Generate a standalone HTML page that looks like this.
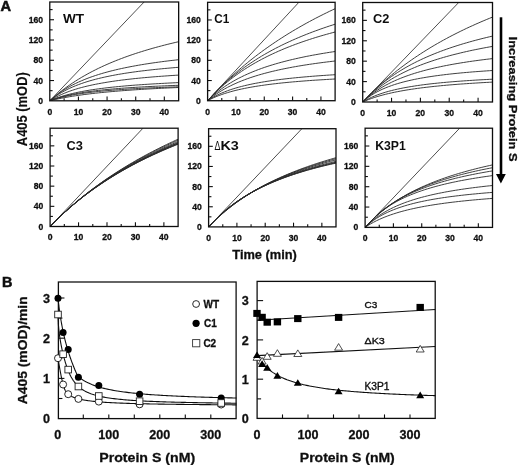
<!DOCTYPE html>
<html><head><meta charset="utf-8"><style>
html,body{margin:0;padding:0;background:#fff;}
svg{display:block;}
text{font-family:"Liberation Sans", sans-serif;fill:#111;stroke:#111;stroke-width:0.3px;}
</style></head><body>
<svg width="520" height="466" viewBox="0 0 520 466">
<rect width="520" height="466" fill="#fff"/>
<defs><filter id="bl" x="0" y="0" width="1" height="1"><feGaussianBlur stdDeviation="0.35"/></filter></defs>
<g filter="url(#bl)">
<g stroke-linecap="butt">
<clipPath id="c_WT"><rect x="49.8" y="2.0" width="128.85000000000002" height="98.8"/></clipPath>
<g clip-path="url(#c_WT)">
<line x1="49.8" y1="100.8" x2="144.10" y2="2.0" stroke="#222" stroke-width="0.8"/>
<polyline points="49.80,100.80 52.66,98.22 55.53,95.75 58.39,93.39 61.25,91.12 64.12,88.94 66.98,86.85 69.84,84.84 72.71,82.91 75.57,81.05 78.43,79.26 81.30,77.53 84.16,75.86 87.02,74.25 89.89,72.69 92.75,71.19 95.61,69.74 98.48,68.33 101.34,66.97 104.20,65.65 107.07,64.38 109.93,63.14 112.79,61.94 115.66,60.77 118.52,59.64 121.38,58.54 124.25,57.47 127.11,56.43 129.97,55.42 132.84,54.44 135.70,53.48 138.56,52.55 141.43,51.65 144.29,50.76 147.15,49.90 150.02,49.06 152.88,48.24 155.74,47.45 158.61,46.67 161.47,45.91 164.33,45.16 167.20,44.44 170.06,43.73 172.92,43.04 175.79,42.36 178.65,41.70" fill="none" stroke="#2a2a2a" stroke-width="0.9"/>
<polyline points="49.80,100.80 52.66,98.25 55.53,95.90 58.39,93.72 61.25,91.71 64.12,89.83 66.98,88.09 69.84,86.45 72.71,84.92 75.57,83.49 78.43,82.14 81.30,80.86 84.16,79.66 87.02,78.53 89.89,77.45 92.75,76.44 95.61,75.47 98.48,74.55 101.34,73.67 104.20,72.84 107.07,72.05 109.93,71.29 112.79,70.56 115.66,69.86 118.52,69.20 121.38,68.56 124.25,67.95 127.11,67.36 129.97,66.79 132.84,66.25 135.70,65.72 138.56,65.22 141.43,64.73 144.29,64.26 147.15,63.81 150.02,63.37 152.88,62.95 155.74,62.54 158.61,62.15 161.47,61.76 164.33,61.39 167.20,61.03 170.06,60.68 172.92,60.35 175.79,60.02 178.65,59.70" fill="none" stroke="#2a2a2a" stroke-width="0.9"/>
<polyline points="49.80,100.80 52.66,98.49 55.53,96.39 58.39,94.47 61.25,92.71 64.12,91.10 66.98,89.60 69.84,88.22 72.71,86.94 75.57,85.75 78.43,84.64 81.30,83.60 84.16,82.62 87.02,81.71 89.89,80.84 92.75,80.03 95.61,79.26 98.48,78.54 101.34,77.85 104.20,77.20 107.07,76.58 109.93,75.99 112.79,75.43 115.66,74.90 118.52,74.38 121.38,73.90 124.25,73.43 127.11,72.98 129.97,72.56 132.84,72.15 135.70,71.75 138.56,71.37 141.43,71.01 144.29,70.66 147.15,70.32 150.02,70.00 152.88,69.68 155.74,69.38 158.61,69.09 161.47,68.81 164.33,68.54 167.20,68.27 170.06,68.02 172.92,67.77 175.79,67.53 178.65,67.30" fill="none" stroke="#2a2a2a" stroke-width="0.9"/>
<polyline points="49.80,100.80 52.66,99.02 55.53,97.41 58.39,95.94 61.25,94.59 64.12,93.35 66.98,92.20 69.84,91.14 72.71,90.16 75.57,89.24 78.43,88.39 81.30,87.59 84.16,86.84 87.02,86.14 89.89,85.48 92.75,84.86 95.61,84.27 98.48,83.71 101.34,83.19 104.20,82.69 107.07,82.21 109.93,81.76 112.79,81.33 115.66,80.92 118.52,80.53 121.38,80.15 124.25,79.80 127.11,79.45 129.97,79.13 132.84,78.81 135.70,78.51 138.56,78.22 141.43,77.94 144.29,77.67 147.15,77.42 150.02,77.17 152.88,76.93 155.74,76.70 158.61,76.47 161.47,76.26 164.33,76.05 167.20,75.85 170.06,75.65 172.92,75.46 175.79,75.28 178.65,75.10" fill="none" stroke="#2a2a2a" stroke-width="0.9"/>
<polyline points="49.80,100.80 52.66,99.58 55.53,98.48 58.39,97.46 61.25,96.52 64.12,95.66 66.98,94.86 69.84,94.12 72.71,93.43 75.57,92.79 78.43,92.18 81.30,91.62 84.16,91.09 87.02,90.59 89.89,90.12 92.75,89.67 95.61,89.25 98.48,88.85 101.34,88.47 104.20,88.12 107.07,87.77 109.93,87.45 112.79,87.14 115.66,86.84 118.52,86.56 121.38,86.29 124.25,86.03 127.11,85.78 129.97,85.54 132.84,85.31 135.70,85.09 138.56,84.88 141.43,84.68 144.29,84.48 147.15,84.30 150.02,84.11 152.88,83.94 155.74,83.77 158.61,83.61 161.47,83.45 164.33,83.30 167.20,83.15 170.06,83.00 172.92,82.87 175.79,82.73 178.65,82.60" fill="none" stroke="#2a2a2a" stroke-width="0.9"/>
<polyline points="49.80,100.80 52.66,99.71 55.53,98.72 58.39,97.82 61.25,96.99 64.12,96.24 66.98,95.54 69.84,94.90 72.71,94.30 75.57,93.75 78.43,93.23 81.30,92.75 84.16,92.30 87.02,91.88 89.89,91.48 92.75,91.11 95.61,90.75 98.48,90.42 101.34,90.11 104.20,89.81 107.07,89.52 109.93,89.25 112.79,89.00 115.66,88.75 118.52,88.52 121.38,88.30 124.25,88.08 127.11,87.88 129.97,87.69 132.84,87.50 135.70,87.32 138.56,87.15 141.43,86.98 144.29,86.82 147.15,86.67 150.02,86.52 152.88,86.38 155.74,86.24 158.61,86.11 161.47,85.98 164.33,85.86 167.20,85.74 170.06,85.62 172.92,85.51 175.79,85.40 178.65,85.30" fill="none" stroke="#2a2a2a" stroke-width="0.9"/>
<polyline points="49.80,100.80 52.66,99.83 55.53,98.94 58.39,98.14 61.25,97.40 64.12,96.72 66.98,96.10 69.84,95.52 72.71,94.98 75.57,94.49 78.43,94.02 81.30,93.59 84.16,93.18 87.02,92.80 89.89,92.44 92.75,92.10 95.61,91.78 98.48,91.47 101.34,91.19 104.20,90.92 107.07,90.66 109.93,90.41 112.79,90.18 115.66,89.96 118.52,89.74 121.38,89.54 124.25,89.35 127.11,89.16 129.97,88.98 132.84,88.81 135.70,88.65 138.56,88.49 141.43,88.34 144.29,88.19 147.15,88.05 150.02,87.92 152.88,87.79 155.74,87.66 158.61,87.54 161.47,87.43 164.33,87.31 167.20,87.20 170.06,87.10 172.92,87.00 175.79,86.90 178.65,86.80" fill="none" stroke="#2a2a2a" stroke-width="0.9"/>
<polyline points="49.80,100.80 52.66,100.10 55.53,99.45 58.39,98.83 61.25,98.25 64.12,97.70 66.98,97.18 69.84,96.68 72.71,96.21 75.57,95.77 78.43,95.34 81.30,94.94 84.16,94.56 87.02,94.19 89.89,93.84 92.75,93.50 95.61,93.18 98.48,92.87 101.34,92.57 104.20,92.29 107.07,92.01 109.93,91.75 112.79,91.50 115.66,91.25 118.52,91.02 121.38,90.79 124.25,90.57 127.11,90.36 129.97,90.16 132.84,89.96 135.70,89.77 138.56,89.58 141.43,89.40 144.29,89.23 147.15,89.06 150.02,88.90 152.88,88.74 155.74,88.58 158.61,88.44 161.47,88.29 164.33,88.15 167.20,88.01 170.06,87.88 172.92,87.75 175.79,87.62 178.65,87.50" fill="none" stroke="#2a2a2a" stroke-width="0.9"/>
</g>
<rect x="49.8" y="2.0" width="128.85" height="98.80" fill="none" stroke="#111" stroke-width="1.3"/>
<line x1="49.8" y1="90.67" x2="52.599999999999994" y2="90.67" stroke="#111" stroke-width="1.1"/>
<line x1="49.8" y1="80.53" x2="54.0" y2="80.53" stroke="#111" stroke-width="1.1"/>
<line x1="49.8" y1="70.40" x2="52.599999999999994" y2="70.40" stroke="#111" stroke-width="1.1"/>
<line x1="49.8" y1="60.27" x2="54.0" y2="60.27" stroke="#111" stroke-width="1.1"/>
<line x1="49.8" y1="50.13" x2="52.599999999999994" y2="50.13" stroke="#111" stroke-width="1.1"/>
<line x1="49.8" y1="40.00" x2="54.0" y2="40.00" stroke="#111" stroke-width="1.1"/>
<line x1="49.8" y1="29.87" x2="52.599999999999994" y2="29.87" stroke="#111" stroke-width="1.1"/>
<line x1="49.8" y1="19.73" x2="54.0" y2="19.73" stroke="#111" stroke-width="1.1"/>
<line x1="49.8" y1="9.60" x2="52.599999999999994" y2="9.60" stroke="#111" stroke-width="1.1"/>
<line x1="64.12" y1="100.8" x2="64.12" y2="98.2" stroke="#111" stroke-width="1.1"/>
<line x1="78.43" y1="100.8" x2="78.43" y2="96.6" stroke="#111" stroke-width="1.1"/>
<line x1="92.75" y1="100.8" x2="92.75" y2="98.2" stroke="#111" stroke-width="1.1"/>
<line x1="107.07" y1="100.8" x2="107.07" y2="96.6" stroke="#111" stroke-width="1.1"/>
<line x1="121.38" y1="100.8" x2="121.38" y2="98.2" stroke="#111" stroke-width="1.1"/>
<line x1="135.70" y1="100.8" x2="135.70" y2="96.6" stroke="#111" stroke-width="1.1"/>
<line x1="150.02" y1="100.8" x2="150.02" y2="98.2" stroke="#111" stroke-width="1.1"/>
<line x1="164.33" y1="100.8" x2="164.33" y2="96.6" stroke="#111" stroke-width="1.1"/>
<text x="43.00" y="103.80" text-anchor="end" font-size="8.6" font-weight="bold">0</text>
<text x="43.00" y="83.53" text-anchor="end" font-size="8.6" font-weight="bold">40</text>
<text x="43.00" y="63.27" text-anchor="end" font-size="8.6" font-weight="bold">80</text>
<text x="43.00" y="43.00" text-anchor="end" font-size="8.6" font-weight="bold">120</text>
<text x="43.00" y="22.73" text-anchor="end" font-size="8.6" font-weight="bold">160</text>
<text x="49.80" y="114.70" text-anchor="middle" font-size="8.6" font-weight="bold">0</text>
<text x="78.43" y="114.70" text-anchor="middle" font-size="8.6" font-weight="bold">10</text>
<text x="107.07" y="114.70" text-anchor="middle" font-size="8.6" font-weight="bold">20</text>
<text x="135.70" y="114.70" text-anchor="middle" font-size="8.6" font-weight="bold">30</text>
<text x="164.33" y="114.70" text-anchor="middle" font-size="8.6" font-weight="bold">40</text>
<clipPath id="c_C1"><rect x="207.6" y="2.3" width="127.50000000000003" height="98.4"/></clipPath>
<g clip-path="url(#c_C1)">
<line x1="207.6" y1="100.7" x2="298.86" y2="2.3" stroke="#222" stroke-width="0.8"/>
<polyline points="207.60,100.70 210.43,97.64 213.27,94.59 216.10,91.53 218.93,88.62 221.77,85.77 224.60,82.99 227.43,80.27 230.27,77.62 233.10,75.02 235.93,72.47 238.77,69.98 241.60,67.55 244.43,65.16 247.27,62.83 250.10,60.54 252.93,58.30 255.77,56.11 258.60,53.96 261.43,51.85 264.27,49.78 267.10,47.76 269.93,45.77 272.77,43.82 275.60,41.91 278.43,40.03 281.27,38.19 284.10,36.38 286.93,34.60 289.77,32.86 292.60,31.15 295.43,29.47 298.27,27.81 301.10,26.19 303.93,24.59 306.77,23.02 309.60,21.48 312.43,19.97 315.27,18.48 318.10,17.01 320.93,15.57 323.77,14.15 326.60,12.75 329.43,11.38 332.27,10.03 335.10,8.70" fill="none" stroke="#2a2a2a" stroke-width="0.9"/>
<polyline points="207.60,100.70 210.43,97.64 213.27,94.59 216.10,91.57 218.93,88.75 221.77,86.04 224.60,83.42 227.43,80.89 230.27,78.45 233.10,76.09 235.93,73.81 238.77,71.61 241.60,69.47 244.43,67.40 247.27,65.40 250.10,63.46 252.93,61.58 255.77,59.75 258.60,57.98 261.43,56.26 264.27,54.59 267.10,52.96 269.93,51.38 272.77,49.84 275.60,48.35 278.43,46.89 281.27,45.47 284.10,44.09 286.93,42.75 289.77,41.44 292.60,40.16 295.43,38.91 298.27,37.69 301.10,36.51 303.93,35.35 306.77,34.21 309.60,33.11 312.43,32.03 315.27,30.97 318.10,29.94 320.93,28.93 323.77,27.94 326.60,26.98 329.43,26.03 332.27,25.11 335.10,24.20" fill="none" stroke="#2a2a2a" stroke-width="0.9"/>
<polyline points="207.60,100.70 210.43,97.64 213.27,94.70 216.10,91.90 218.93,89.21 221.77,86.64 224.60,84.18 227.43,81.82 230.27,79.55 233.10,77.36 235.93,75.26 238.77,73.24 241.60,71.30 244.43,69.42 247.27,67.61 250.10,65.86 252.93,64.17 255.77,62.54 258.60,60.97 261.43,59.44 264.27,57.96 267.10,56.53 269.93,55.15 272.77,53.80 275.60,52.50 278.43,51.23 281.27,50.00 284.10,48.81 286.93,47.65 289.77,46.53 292.60,45.43 295.43,44.36 298.27,43.33 301.10,42.32 303.93,41.33 306.77,40.38 309.60,39.44 312.43,38.53 315.27,37.64 318.10,36.78 320.93,35.93 323.77,35.11 326.60,34.30 329.43,33.52 332.27,32.75 335.10,32.00" fill="none" stroke="#2a2a2a" stroke-width="0.9"/>
<polyline points="207.60,100.70 210.43,97.96 213.27,95.40 216.10,93.00 218.93,90.75 221.77,88.64 224.60,86.65 227.43,84.78 230.27,83.00 233.10,81.33 235.93,79.74 238.77,78.23 241.60,76.80 244.43,75.44 247.27,74.14 250.10,72.90 252.93,71.72 255.77,70.59 258.60,69.51 261.43,68.47 264.27,67.48 267.10,66.53 269.93,65.62 272.77,64.74 275.60,63.90 278.43,63.08 281.27,62.30 284.10,61.55 286.93,60.82 289.77,60.12 292.60,59.44 295.43,58.79 298.27,58.15 301.10,57.54 303.93,56.95 306.77,56.37 309.60,55.82 312.43,55.28 315.27,54.76 318.10,54.25 320.93,53.76 323.77,53.28 326.60,52.82 329.43,52.37 332.27,51.93 335.10,51.50" fill="none" stroke="#2a2a2a" stroke-width="0.9"/>
<polyline points="207.60,100.70 210.43,98.38 213.27,96.22 216.10,94.22 218.93,92.35 221.77,90.59 224.60,88.95 227.43,87.41 230.27,85.96 233.10,84.59 235.93,83.30 238.77,82.07 241.60,80.92 244.43,79.82 247.27,78.77 250.10,77.78 252.93,76.83 255.77,75.93 258.60,75.07 261.43,74.25 264.27,73.46 267.10,72.71 269.93,71.99 272.77,71.30 275.60,70.63 278.43,69.99 281.27,69.38 284.10,68.79 286.93,68.22 289.77,67.67 292.60,67.14 295.43,66.63 298.27,66.14 301.10,65.66 303.93,65.20 306.77,64.76 309.60,64.33 312.43,63.91 315.27,63.51 318.10,63.12 320.93,62.74 323.77,62.37 326.60,62.01 329.43,61.66 332.27,61.33 335.10,61.00" fill="none" stroke="#2a2a2a" stroke-width="0.9"/>
<polyline points="207.60,100.70 210.43,98.86 213.27,97.20 216.10,95.68 218.93,94.30 221.77,93.03 224.60,91.86 227.43,90.78 230.27,89.78 233.10,88.86 235.93,87.99 238.77,87.18 241.60,86.43 244.43,85.72 247.27,85.05 250.10,84.43 252.93,83.83 255.77,83.28 258.60,82.75 261.43,82.25 264.27,81.77 267.10,81.32 269.93,80.89 272.77,80.48 275.60,80.09 278.43,79.72 281.27,79.36 284.10,79.02 286.93,78.69 289.77,78.38 292.60,78.08 295.43,77.79 298.27,77.51 301.10,77.25 303.93,76.99 306.77,76.75 309.60,76.51 312.43,76.28 315.27,76.06 318.10,75.84 320.93,75.64 323.77,75.44 326.60,75.24 329.43,75.06 332.27,74.88 335.10,74.70" fill="none" stroke="#2a2a2a" stroke-width="0.9"/>
<polyline points="207.60,100.70 210.43,99.23 213.27,97.89 216.10,96.67 218.93,95.54 221.77,94.50 224.60,93.54 227.43,92.66 230.27,91.83 233.10,91.06 235.93,90.34 238.77,89.67 241.60,89.03 244.43,88.44 247.27,87.88 250.10,87.35 252.93,86.85 255.77,86.38 258.60,85.93 261.43,85.50 264.27,85.10 267.10,84.71 269.93,84.35 272.77,84.00 275.60,83.66 278.43,83.34 281.27,83.04 284.10,82.74 286.93,82.46 289.77,82.19 292.60,81.93 295.43,81.69 298.27,81.45 301.10,81.22 303.93,80.99 306.77,80.78 309.60,80.57 312.43,80.37 315.27,80.18 318.10,80.00 320.93,79.82 323.77,79.64 326.60,79.47 329.43,79.31 332.27,79.15 335.10,79.00" fill="none" stroke="#2a2a2a" stroke-width="0.9"/>
</g>
<rect x="207.6" y="2.3" width="127.50" height="98.40" fill="none" stroke="#111" stroke-width="1.3"/>
<line x1="207.6" y1="90.61" x2="210.4" y2="90.61" stroke="#111" stroke-width="1.1"/>
<line x1="207.6" y1="80.52" x2="211.79999999999998" y2="80.52" stroke="#111" stroke-width="1.1"/>
<line x1="207.6" y1="70.42" x2="210.4" y2="70.42" stroke="#111" stroke-width="1.1"/>
<line x1="207.6" y1="60.33" x2="211.79999999999998" y2="60.33" stroke="#111" stroke-width="1.1"/>
<line x1="207.6" y1="50.24" x2="210.4" y2="50.24" stroke="#111" stroke-width="1.1"/>
<line x1="207.6" y1="40.15" x2="211.79999999999998" y2="40.15" stroke="#111" stroke-width="1.1"/>
<line x1="207.6" y1="30.05" x2="210.4" y2="30.05" stroke="#111" stroke-width="1.1"/>
<line x1="207.6" y1="19.96" x2="211.79999999999998" y2="19.96" stroke="#111" stroke-width="1.1"/>
<line x1="207.6" y1="9.87" x2="210.4" y2="9.87" stroke="#111" stroke-width="1.1"/>
<line x1="221.77" y1="100.7" x2="221.77" y2="98.10000000000001" stroke="#111" stroke-width="1.1"/>
<line x1="235.93" y1="100.7" x2="235.93" y2="96.5" stroke="#111" stroke-width="1.1"/>
<line x1="250.10" y1="100.7" x2="250.10" y2="98.10000000000001" stroke="#111" stroke-width="1.1"/>
<line x1="264.27" y1="100.7" x2="264.27" y2="96.5" stroke="#111" stroke-width="1.1"/>
<line x1="278.43" y1="100.7" x2="278.43" y2="98.10000000000001" stroke="#111" stroke-width="1.1"/>
<line x1="292.60" y1="100.7" x2="292.60" y2="96.5" stroke="#111" stroke-width="1.1"/>
<line x1="306.77" y1="100.7" x2="306.77" y2="98.10000000000001" stroke="#111" stroke-width="1.1"/>
<line x1="320.93" y1="100.7" x2="320.93" y2="96.5" stroke="#111" stroke-width="1.1"/>
<text x="200.80" y="103.70" text-anchor="end" font-size="8.6" font-weight="bold">0</text>
<text x="200.80" y="83.52" text-anchor="end" font-size="8.6" font-weight="bold">40</text>
<text x="200.80" y="63.33" text-anchor="end" font-size="8.6" font-weight="bold">80</text>
<text x="200.80" y="43.15" text-anchor="end" font-size="8.6" font-weight="bold">120</text>
<text x="200.80" y="22.96" text-anchor="end" font-size="8.6" font-weight="bold">160</text>
<text x="207.60" y="114.60" text-anchor="middle" font-size="8.6" font-weight="bold">0</text>
<text x="235.93" y="114.60" text-anchor="middle" font-size="8.6" font-weight="bold">10</text>
<text x="264.27" y="114.60" text-anchor="middle" font-size="8.6" font-weight="bold">20</text>
<text x="292.60" y="114.60" text-anchor="middle" font-size="8.6" font-weight="bold">30</text>
<text x="320.93" y="114.60" text-anchor="middle" font-size="8.6" font-weight="bold">40</text>
<clipPath id="c_C2"><rect x="362.7" y="2.5" width="129.8" height="99.5"/></clipPath>
<g clip-path="url(#c_C2)">
<line x1="362.7" y1="102.0" x2="458.69" y2="2.5" stroke="#222" stroke-width="0.8"/>
<polyline points="362.70,102.00 365.58,99.01 368.47,96.02 371.35,93.14 374.24,90.35 377.12,87.63 380.01,84.98 382.89,82.39 385.78,79.87 388.66,77.42 391.54,75.02 394.43,72.68 397.31,70.40 400.20,68.17 403.08,66.00 405.97,63.87 408.85,61.80 411.74,59.77 414.62,57.78 417.50,55.84 420.39,53.95 423.27,52.09 426.16,50.27 429.04,48.49 431.93,46.75 434.81,45.05 437.70,43.38 440.58,41.74 443.46,40.14 446.35,38.57 449.23,37.03 452.12,35.52 455.00,34.04 457.89,32.58 460.77,31.16 463.66,29.76 466.54,28.39 469.42,27.04 472.31,25.72 475.19,24.42 478.08,23.15 480.96,21.89 483.85,20.66 486.73,19.45 489.62,18.27 492.50,17.10" fill="none" stroke="#2a2a2a" stroke-width="0.9"/>
<polyline points="362.70,102.00 365.58,99.01 368.47,96.02 371.35,93.03 374.24,90.31 377.12,87.73 380.01,85.28 382.89,82.93 385.78,80.69 388.66,78.54 391.54,76.49 394.43,74.52 397.31,72.63 400.20,70.82 403.08,69.08 405.97,67.40 408.85,65.79 411.74,64.24 414.62,62.74 417.50,61.30 420.39,59.90 423.27,58.56 426.16,57.26 429.04,56.00 431.93,54.79 434.81,53.61 437.70,52.47 440.58,51.37 443.46,50.30 446.35,49.26 449.23,48.26 452.12,47.28 455.00,46.33 457.89,45.41 460.77,44.51 463.66,43.64 466.54,42.80 469.42,41.97 472.31,41.17 475.19,40.39 478.08,39.63 480.96,38.89 483.85,38.16 486.73,37.46 489.62,36.77 492.50,36.10" fill="none" stroke="#2a2a2a" stroke-width="0.9"/>
<polyline points="362.70,102.00 365.58,99.06 368.47,96.31 371.35,93.71 374.24,91.26 377.12,88.95 380.01,86.77 382.89,84.70 385.78,82.73 388.66,80.86 391.54,79.09 394.43,77.40 397.31,75.79 400.20,74.25 403.08,72.78 405.97,71.37 408.85,70.03 411.74,68.73 414.62,67.50 417.50,66.31 420.39,65.17 423.27,64.07 426.16,63.01 429.04,62.00 431.93,61.02 434.81,60.07 437.70,59.16 440.58,58.28 443.46,57.43 446.35,56.61 449.23,55.81 452.12,55.04 455.00,54.30 457.89,53.58 460.77,52.88 463.66,52.20 466.54,51.54 469.42,50.90 472.31,50.28 475.19,49.68 478.08,49.10 480.96,48.53 483.85,47.97 486.73,47.43 489.62,46.91 492.50,46.40" fill="none" stroke="#2a2a2a" stroke-width="0.9"/>
<polyline points="362.70,102.00 365.58,99.30 368.47,96.81 371.35,94.51 374.24,92.38 377.12,90.40 380.01,88.55 382.89,86.82 385.78,85.21 388.66,83.69 391.54,82.26 394.43,80.92 397.31,79.65 400.20,78.45 403.08,77.32 405.97,76.24 408.85,75.22 411.74,74.25 414.62,73.33 417.50,72.45 420.39,71.61 423.27,70.81 426.16,70.04 429.04,69.31 431.93,68.61 434.81,67.93 437.70,67.29 440.58,66.67 443.46,66.07 446.35,65.50 449.23,64.95 452.12,64.41 455.00,63.90 457.89,63.41 460.77,62.93 463.66,62.47 466.54,62.02 469.42,61.59 472.31,61.18 475.19,60.77 478.08,60.38 480.96,60.00 483.85,59.64 486.73,59.28 489.62,58.94 492.50,58.60" fill="none" stroke="#2a2a2a" stroke-width="0.9"/>
<polyline points="362.70,102.00 365.58,99.49 368.47,97.26 371.35,95.26 374.24,93.46 377.12,91.83 380.01,90.36 382.89,89.01 385.78,87.77 388.66,86.63 391.54,85.58 394.43,84.60 397.31,83.70 400.20,82.86 403.08,82.07 405.97,81.34 408.85,80.65 411.74,80.00 414.62,79.39 417.50,78.82 420.39,78.28 423.27,77.77 426.16,77.28 429.04,76.82 431.93,76.38 434.81,75.96 437.70,75.57 440.58,75.19 443.46,74.83 446.35,74.48 449.23,74.15 452.12,73.84 455.00,73.53 457.89,73.24 460.77,72.96 463.66,72.70 466.54,72.44 469.42,72.19 472.31,71.95 475.19,71.72 478.08,71.50 480.96,71.29 483.85,71.08 486.73,70.88 489.62,70.69 492.50,70.50" fill="none" stroke="#2a2a2a" stroke-width="0.9"/>
<polyline points="362.70,102.00 365.58,100.31 368.47,98.79 371.35,97.41 374.24,96.16 377.12,95.02 380.01,93.98 382.89,93.02 385.78,92.13 388.66,91.31 391.54,90.55 394.43,89.85 397.31,89.19 400.20,88.57 403.08,87.99 405.97,87.45 408.85,86.94 411.74,86.46 414.62,86.00 417.50,85.57 420.39,85.16 423.27,84.78 426.16,84.41 429.04,84.06 431.93,83.73 434.81,83.41 437.70,83.11 440.58,82.82 443.46,82.55 446.35,82.28 449.23,82.03 452.12,81.79 455.00,81.55 457.89,81.33 460.77,81.11 463.66,80.91 466.54,80.71 469.42,80.52 472.31,80.33 475.19,80.15 478.08,79.98 480.96,79.81 483.85,79.65 486.73,79.50 489.62,79.35 492.50,79.20" fill="none" stroke="#2a2a2a" stroke-width="0.9"/>
<polyline points="362.70,102.00 365.58,100.75 368.47,99.60 371.35,98.53 374.24,97.55 377.12,96.63 380.01,95.78 382.89,94.99 385.78,94.24 388.66,93.55 391.54,92.89 394.43,92.28 397.31,91.69 400.20,91.15 403.08,90.63 405.97,90.13 408.85,89.67 411.74,89.22 414.62,88.80 417.50,88.40 420.39,88.02 423.27,87.65 426.16,87.30 429.04,86.97 431.93,86.65 434.81,86.34 437.70,86.05 440.58,85.76 443.46,85.49 446.35,85.23 449.23,84.98 452.12,84.74 455.00,84.51 457.89,84.28 460.77,84.06 463.66,83.86 466.54,83.65 469.42,83.46 472.31,83.27 475.19,83.09 478.08,82.91 480.96,82.74 483.85,82.57 486.73,82.41 489.62,82.25 492.50,82.10" fill="none" stroke="#2a2a2a" stroke-width="0.9"/>
</g>
<rect x="362.7" y="2.5" width="129.80" height="99.50" fill="none" stroke="#111" stroke-width="1.3"/>
<line x1="362.7" y1="91.79" x2="365.5" y2="91.79" stroke="#111" stroke-width="1.1"/>
<line x1="362.7" y1="81.59" x2="366.9" y2="81.59" stroke="#111" stroke-width="1.1"/>
<line x1="362.7" y1="71.38" x2="365.5" y2="71.38" stroke="#111" stroke-width="1.1"/>
<line x1="362.7" y1="61.18" x2="366.9" y2="61.18" stroke="#111" stroke-width="1.1"/>
<line x1="362.7" y1="50.97" x2="365.5" y2="50.97" stroke="#111" stroke-width="1.1"/>
<line x1="362.7" y1="40.77" x2="366.9" y2="40.77" stroke="#111" stroke-width="1.1"/>
<line x1="362.7" y1="30.56" x2="365.5" y2="30.56" stroke="#111" stroke-width="1.1"/>
<line x1="362.7" y1="20.36" x2="366.9" y2="20.36" stroke="#111" stroke-width="1.1"/>
<line x1="362.7" y1="10.15" x2="365.5" y2="10.15" stroke="#111" stroke-width="1.1"/>
<line x1="377.12" y1="102.0" x2="377.12" y2="99.4" stroke="#111" stroke-width="1.1"/>
<line x1="391.54" y1="102.0" x2="391.54" y2="97.8" stroke="#111" stroke-width="1.1"/>
<line x1="405.97" y1="102.0" x2="405.97" y2="99.4" stroke="#111" stroke-width="1.1"/>
<line x1="420.39" y1="102.0" x2="420.39" y2="97.8" stroke="#111" stroke-width="1.1"/>
<line x1="434.81" y1="102.0" x2="434.81" y2="99.4" stroke="#111" stroke-width="1.1"/>
<line x1="449.23" y1="102.0" x2="449.23" y2="97.8" stroke="#111" stroke-width="1.1"/>
<line x1="463.66" y1="102.0" x2="463.66" y2="99.4" stroke="#111" stroke-width="1.1"/>
<line x1="478.08" y1="102.0" x2="478.08" y2="97.8" stroke="#111" stroke-width="1.1"/>
<text x="355.90" y="105.00" text-anchor="end" font-size="8.6" font-weight="bold">0</text>
<text x="355.90" y="84.59" text-anchor="end" font-size="8.6" font-weight="bold">40</text>
<text x="355.90" y="64.18" text-anchor="end" font-size="8.6" font-weight="bold">80</text>
<text x="355.90" y="43.77" text-anchor="end" font-size="8.6" font-weight="bold">120</text>
<text x="355.90" y="23.36" text-anchor="end" font-size="8.6" font-weight="bold">160</text>
<text x="362.70" y="115.90" text-anchor="middle" font-size="8.6" font-weight="bold">0</text>
<text x="391.54" y="115.90" text-anchor="middle" font-size="8.6" font-weight="bold">10</text>
<text x="420.39" y="115.90" text-anchor="middle" font-size="8.6" font-weight="bold">20</text>
<text x="449.23" y="115.90" text-anchor="middle" font-size="8.6" font-weight="bold">30</text>
<text x="478.08" y="115.90" text-anchor="middle" font-size="8.6" font-weight="bold">40</text>
<clipPath id="c_C3"><rect x="50.1" y="128.2" width="128.0" height="98.30000000000001"/></clipPath>
<g clip-path="url(#c_C3)">
<line x1="50.1" y1="226.5" x2="142.99" y2="128.2" stroke="#222" stroke-width="0.8"/>
<polyline points="50.10,226.50 52.94,223.59 55.79,220.75 58.63,217.97 61.48,215.25 64.32,212.59 67.17,209.99 70.01,207.44 72.86,204.95 75.70,202.51 78.54,200.12 81.39,197.77 84.23,195.48 87.08,193.23 89.92,191.02 92.77,188.86 95.61,186.74 98.46,184.66 101.30,182.62 104.14,180.62 106.99,178.65 109.83,176.73 112.68,174.83 115.52,172.97 118.37,171.15 121.21,169.36 124.06,167.60 126.90,165.87 129.74,164.17 132.59,162.50 135.43,160.85 138.28,159.24 141.12,157.65 143.97,156.09 146.81,154.56 149.66,153.05 152.50,151.56 155.34,150.10 158.19,148.66 161.03,147.24 163.88,145.85 166.72,144.48 169.57,143.13 172.41,141.80 175.26,140.49 178.10,139.20" fill="none" stroke="#2a2a2a" stroke-width="0.9"/>
<polyline points="50.10,226.50 52.94,223.58 55.79,220.74 58.63,217.96 61.48,215.24 64.32,212.58 67.17,209.99 70.01,207.45 72.86,204.96 75.70,202.53 78.54,200.15 81.39,197.82 84.23,195.54 87.08,193.31 89.92,191.12 92.77,188.98 95.61,186.88 98.46,184.82 101.30,182.81 104.14,180.83 106.99,178.89 109.83,176.99 112.68,175.12 115.52,173.29 118.37,171.49 121.21,169.73 124.06,167.99 126.90,166.29 129.74,164.62 132.59,162.98 135.43,161.37 138.28,159.79 141.12,158.23 143.97,156.70 146.81,155.20 149.66,153.72 152.50,152.26 155.34,150.84 158.19,149.43 161.03,148.05 163.88,146.69 166.72,145.35 169.57,144.03 172.41,142.73 175.26,141.46 178.10,140.20" fill="none" stroke="#2a2a2a" stroke-width="0.9"/>
<polyline points="50.10,226.50 52.94,223.58 55.79,220.72 58.63,217.94 61.48,215.22 64.32,212.57 67.17,209.98 70.01,207.45 72.86,204.98 75.70,202.56 78.54,200.20 81.39,197.89 84.23,195.63 87.08,193.42 89.92,191.26 92.77,189.15 95.61,187.07 98.46,185.05 101.30,183.06 104.14,181.11 106.99,179.20 109.83,177.34 112.68,175.50 115.52,173.71 118.37,171.94 121.21,170.22 124.06,168.52 126.90,166.86 129.74,165.23 132.59,163.62 135.43,162.05 138.28,160.51 141.12,158.99 143.97,157.50 146.81,156.04 149.66,154.60 152.50,153.19 155.34,151.80 158.19,150.44 161.03,149.09 163.88,147.78 166.72,146.48 169.57,145.20 172.41,143.95 175.26,142.71 178.10,141.50" fill="none" stroke="#2a2a2a" stroke-width="0.9"/>
<polyline points="50.10,226.50 52.94,223.57 55.79,220.71 58.63,217.92 61.48,215.20 64.32,212.55 67.17,209.97 70.01,207.45 72.86,204.98 75.70,202.58 78.54,200.23 81.39,197.94 84.23,195.69 87.08,193.50 89.92,191.36 92.77,189.26 95.61,187.21 98.46,185.21 101.30,183.24 104.14,181.32 106.99,179.44 109.83,177.59 112.68,175.79 115.52,174.02 118.37,172.29 121.21,170.59 124.06,168.92 126.90,167.29 129.74,165.68 132.59,164.11 135.43,162.57 138.28,161.06 141.12,159.57 143.97,158.11 146.81,156.68 149.66,155.28 152.50,153.90 155.34,152.54 158.19,151.21 161.03,149.90 163.88,148.61 166.72,147.35 169.57,146.11 172.41,144.88 175.26,143.68 178.10,142.50" fill="none" stroke="#2a2a2a" stroke-width="0.9"/>
<polyline points="50.10,226.50 52.94,223.57 55.79,220.71 58.63,217.93 61.48,215.22 64.32,212.57 67.17,210.00 70.01,207.48 72.86,205.03 75.70,202.63 78.54,200.29 81.39,198.00 84.23,195.77 87.08,193.59 89.92,191.46 92.77,189.37 95.61,187.33 98.46,185.34 101.30,183.39 104.14,181.48 106.99,179.61 109.83,177.78 112.68,175.98 115.52,174.23 118.37,172.51 121.21,170.82 124.06,169.17 126.90,167.55 129.74,165.96 132.59,164.40 135.43,162.87 138.28,161.37 141.12,159.90 143.97,158.45 146.81,157.04 149.66,155.64 152.50,154.28 155.34,152.93 158.19,151.61 161.03,150.32 163.88,149.05 166.72,147.80 169.57,146.57 172.41,145.36 175.26,144.17 178.10,143.00" fill="none" stroke="#2a2a2a" stroke-width="0.9"/>
<polyline points="50.10,226.50 52.94,223.57 55.79,220.72 58.63,217.94 61.48,215.23 64.32,212.59 67.17,210.02 70.01,207.51 72.86,205.07 75.70,202.68 78.54,200.35 81.39,198.07 84.23,195.85 87.08,193.68 89.92,191.56 92.77,189.48 95.61,187.45 98.46,185.47 101.30,183.53 104.14,181.63 106.99,179.78 109.83,177.96 112.68,176.18 115.52,174.43 118.37,172.72 121.21,171.05 124.06,169.41 126.90,167.80 129.74,166.23 132.59,164.68 135.43,163.17 138.28,161.68 141.12,160.22 143.97,158.79 146.81,157.39 149.66,156.01 152.50,154.66 155.34,153.33 158.19,152.02 161.03,150.74 163.88,149.48 166.72,148.24 169.57,147.03 172.41,145.83 175.26,144.66 178.10,143.50" fill="none" stroke="#2a2a2a" stroke-width="0.9"/>
<polyline points="50.10,226.50 52.94,223.58 55.79,220.73 58.63,217.96 61.48,215.26 64.32,212.63 67.17,210.07 70.01,207.57 72.86,205.13 75.70,202.75 78.54,200.43 81.39,198.17 84.23,195.95 87.08,193.79 89.92,191.68 92.77,189.61 95.61,187.59 98.46,185.62 101.30,183.69 104.14,181.80 106.99,179.95 109.83,178.14 112.68,176.37 115.52,174.64 118.37,172.94 121.21,171.27 124.06,169.64 126.90,168.05 129.74,166.48 132.59,164.94 135.43,163.44 138.28,161.96 141.12,160.51 143.97,159.09 146.81,157.69 149.66,156.32 152.50,154.98 155.34,153.66 158.19,152.36 161.03,151.09 163.88,149.84 166.72,148.61 169.57,147.40 172.41,146.21 175.26,145.05 178.10,143.90" fill="none" stroke="#2a2a2a" stroke-width="0.9"/>
<polyline points="50.10,226.50 52.94,223.58 55.79,220.73 58.63,217.96 61.48,215.26 64.32,212.63 67.17,210.07 70.01,207.58 72.86,205.14 75.70,202.77 78.54,200.45 81.39,198.19 84.23,195.98 87.08,193.82 89.92,191.72 92.77,189.66 95.61,187.64 98.46,185.68 101.30,183.75 104.14,181.87 106.99,180.03 109.83,178.23 112.68,176.47 115.52,174.74 118.37,173.05 121.21,171.40 124.06,169.77 126.90,168.18 129.74,166.63 132.59,165.10 135.43,163.60 138.28,162.13 141.12,160.69 143.97,159.28 146.81,157.89 149.66,156.53 152.50,155.20 155.34,153.89 158.19,152.60 161.03,151.33 163.88,150.09 166.72,148.87 169.57,147.67 172.41,146.50 175.26,145.34 178.10,144.20" fill="none" stroke="#2a2a2a" stroke-width="0.9"/>
</g>
<rect x="50.1" y="128.2" width="128.00" height="98.30" fill="none" stroke="#111" stroke-width="1.3"/>
<line x1="50.1" y1="216.42" x2="52.9" y2="216.42" stroke="#111" stroke-width="1.1"/>
<line x1="50.1" y1="206.34" x2="54.300000000000004" y2="206.34" stroke="#111" stroke-width="1.1"/>
<line x1="50.1" y1="196.25" x2="52.9" y2="196.25" stroke="#111" stroke-width="1.1"/>
<line x1="50.1" y1="186.17" x2="54.300000000000004" y2="186.17" stroke="#111" stroke-width="1.1"/>
<line x1="50.1" y1="176.09" x2="52.9" y2="176.09" stroke="#111" stroke-width="1.1"/>
<line x1="50.1" y1="166.01" x2="54.300000000000004" y2="166.01" stroke="#111" stroke-width="1.1"/>
<line x1="50.1" y1="155.93" x2="52.9" y2="155.93" stroke="#111" stroke-width="1.1"/>
<line x1="50.1" y1="145.84" x2="54.300000000000004" y2="145.84" stroke="#111" stroke-width="1.1"/>
<line x1="50.1" y1="135.76" x2="52.9" y2="135.76" stroke="#111" stroke-width="1.1"/>
<line x1="64.32" y1="226.5" x2="64.32" y2="223.9" stroke="#111" stroke-width="1.1"/>
<line x1="78.54" y1="226.5" x2="78.54" y2="222.3" stroke="#111" stroke-width="1.1"/>
<line x1="92.77" y1="226.5" x2="92.77" y2="223.9" stroke="#111" stroke-width="1.1"/>
<line x1="106.99" y1="226.5" x2="106.99" y2="222.3" stroke="#111" stroke-width="1.1"/>
<line x1="121.21" y1="226.5" x2="121.21" y2="223.9" stroke="#111" stroke-width="1.1"/>
<line x1="135.43" y1="226.5" x2="135.43" y2="222.3" stroke="#111" stroke-width="1.1"/>
<line x1="149.66" y1="226.5" x2="149.66" y2="223.9" stroke="#111" stroke-width="1.1"/>
<line x1="163.88" y1="226.5" x2="163.88" y2="222.3" stroke="#111" stroke-width="1.1"/>
<text x="43.30" y="229.50" text-anchor="end" font-size="8.6" font-weight="bold">0</text>
<text x="43.30" y="209.34" text-anchor="end" font-size="8.6" font-weight="bold">40</text>
<text x="43.30" y="189.17" text-anchor="end" font-size="8.6" font-weight="bold">80</text>
<text x="43.30" y="169.01" text-anchor="end" font-size="8.6" font-weight="bold">120</text>
<text x="43.30" y="148.84" text-anchor="end" font-size="8.6" font-weight="bold">160</text>
<text x="50.10" y="240.40" text-anchor="middle" font-size="8.6" font-weight="bold">0</text>
<text x="78.54" y="240.40" text-anchor="middle" font-size="8.6" font-weight="bold">10</text>
<text x="106.99" y="240.40" text-anchor="middle" font-size="8.6" font-weight="bold">20</text>
<text x="135.43" y="240.40" text-anchor="middle" font-size="8.6" font-weight="bold">30</text>
<text x="163.88" y="240.40" text-anchor="middle" font-size="8.6" font-weight="bold">40</text>
<clipPath id="c_dK3"><rect x="208.6" y="128.7" width="127.4" height="98.20000000000002"/></clipPath>
<g clip-path="url(#c_dK3)">
<line x1="208.6" y1="226.9" x2="301.89" y2="128.7" stroke="#222" stroke-width="0.8"/>
<polyline points="208.60,226.90 211.43,223.98 214.26,221.17 217.09,218.47 219.92,215.88 222.76,213.38 225.59,210.98 228.42,208.67 231.25,206.44 234.08,204.29 236.91,202.21 239.74,200.20 242.57,198.26 245.40,196.38 248.24,194.57 251.07,192.81 253.90,191.11 256.73,189.46 259.56,187.86 262.39,186.31 265.22,184.80 268.05,183.34 270.88,181.92 273.72,180.54 276.55,179.20 279.38,177.89 282.21,176.62 285.04,175.39 287.87,174.18 290.70,173.01 293.53,171.87 296.36,170.76 299.20,169.67 302.03,168.62 304.86,167.58 307.69,166.58 310.52,165.59 313.35,164.63 316.18,163.70 319.01,162.78 321.84,161.89 324.68,161.01 327.51,160.16 330.34,159.32 333.17,158.50 336.00,157.70" fill="none" stroke="#2a2a2a" stroke-width="0.9"/>
<polyline points="208.60,226.90 211.43,223.93 214.26,221.09 217.09,218.37 219.92,215.76 222.76,213.26 225.59,210.85 228.42,208.54 231.25,206.31 234.08,204.16 236.91,202.10 239.74,200.10 242.57,198.18 245.40,196.32 248.24,194.53 251.07,192.80 253.90,191.12 256.73,189.50 259.56,187.92 262.39,186.40 265.22,184.93 268.05,183.50 270.88,182.11 273.72,180.76 276.55,179.45 279.38,178.18 282.21,176.95 285.04,175.75 287.87,174.58 290.70,173.44 293.53,172.34 296.36,171.26 299.20,170.21 302.03,169.19 304.86,168.19 307.69,167.22 310.52,166.28 313.35,165.35 316.18,164.45 319.01,163.57 321.84,162.71 324.68,161.87 327.51,161.05 330.34,160.25 333.17,159.47 336.00,158.70" fill="none" stroke="#2a2a2a" stroke-width="0.9"/>
<polyline points="208.60,226.90 211.43,223.92 214.26,220.98 217.09,218.23 219.92,215.59 222.76,213.06 225.59,210.64 228.42,208.33 231.25,206.10 234.08,203.96 236.91,201.91 239.74,199.93 242.57,198.03 245.40,196.20 248.24,194.43 251.07,192.73 253.90,191.08 256.73,189.49 259.56,187.96 262.39,186.47 265.22,185.03 268.05,183.64 270.88,182.30 273.72,180.99 276.55,179.72 279.38,178.50 282.21,177.31 285.04,176.15 287.87,175.03 290.70,173.93 293.53,172.87 296.36,171.84 299.20,170.84 302.03,169.86 304.86,168.91 307.69,167.98 310.52,167.08 313.35,166.20 316.18,165.35 319.01,164.51 321.84,163.69 324.68,162.90 327.51,162.12 330.34,161.36 333.17,160.62 336.00,159.90" fill="none" stroke="#2a2a2a" stroke-width="0.9"/>
<polyline points="208.60,226.90 211.43,223.92 214.26,220.94 217.09,218.07 219.92,215.41 222.76,212.87 225.59,210.44 228.42,208.12 231.25,205.90 234.08,203.78 236.91,201.74 239.74,199.79 242.57,197.91 245.40,196.11 248.24,194.38 251.07,192.71 253.90,191.10 256.73,189.55 259.56,188.06 262.39,186.62 265.22,185.23 268.05,183.88 270.88,182.58 273.72,181.32 276.55,180.11 279.38,178.93 282.21,177.79 285.04,176.68 287.87,175.60 290.70,174.56 293.53,173.55 296.36,172.57 299.20,171.62 302.03,170.69 304.86,169.79 307.69,168.91 310.52,168.06 313.35,167.23 316.18,166.42 319.01,165.63 321.84,164.86 324.68,164.11 327.51,163.38 330.34,162.67 333.17,161.98 336.00,161.30" fill="none" stroke="#2a2a2a" stroke-width="0.9"/>
<polyline points="208.60,226.90 211.43,223.92 214.26,220.94 217.09,217.97 219.92,215.29 222.76,212.73 225.59,210.30 228.42,207.99 231.25,205.77 234.08,203.66 236.91,201.63 239.74,199.70 242.57,197.84 245.40,196.06 248.24,194.35 251.07,192.70 253.90,191.12 256.73,189.60 259.56,188.13 262.39,186.72 265.22,185.36 268.05,184.04 270.88,182.77 273.72,181.55 276.55,180.36 279.38,179.21 282.21,178.10 285.04,177.03 287.87,175.99 290.70,174.98 293.53,174.00 296.36,173.05 299.20,172.12 302.03,171.23 304.86,170.36 307.69,169.51 310.52,168.69 313.35,167.89 316.18,167.11 319.01,166.35 321.84,165.62 324.68,164.90 327.51,164.20 330.34,163.51 333.17,162.85 336.00,162.20" fill="none" stroke="#2a2a2a" stroke-width="0.9"/>
<polyline points="208.60,226.90 211.43,223.92 214.26,220.94 217.09,217.96 219.92,215.28 222.76,212.73 225.59,210.30 228.42,207.99 231.25,205.79 234.08,203.68 236.91,201.67 239.74,199.74 242.57,197.90 245.40,196.13 248.24,194.43 251.07,192.80 253.90,191.23 256.73,189.72 259.56,188.27 262.39,186.87 265.22,185.52 268.05,184.22 270.88,182.97 273.72,181.76 276.55,180.58 279.38,179.45 282.21,178.36 285.04,177.29 287.87,176.27 290.70,175.27 293.53,174.30 296.36,173.37 299.20,172.46 302.03,171.58 304.86,170.72 307.69,169.89 310.52,169.08 313.35,168.29 316.18,167.53 319.01,166.78 321.84,166.06 324.68,165.35 327.51,164.66 330.34,163.99 333.17,163.34 336.00,162.70" fill="none" stroke="#2a2a2a" stroke-width="0.9"/>
<polyline points="208.60,226.90 211.43,223.92 214.26,220.94 217.09,217.96 219.92,215.23 222.76,212.67 225.59,210.25 228.42,207.94 231.25,205.74 234.08,203.64 236.91,201.63 239.74,199.71 242.57,197.87 245.40,196.11 248.24,194.43 251.07,192.81 253.90,191.25 256.73,189.75 259.56,188.31 262.39,186.93 265.22,185.59 268.05,184.31 270.88,183.06 273.72,181.87 276.55,180.71 279.38,179.59 282.21,178.51 285.04,177.46 287.87,176.44 290.70,175.46 293.53,174.51 296.36,173.59 299.20,172.69 302.03,171.82 304.86,170.98 307.69,170.16 310.52,169.37 313.35,168.59 316.18,167.84 319.01,167.11 321.84,166.39 324.68,165.70 327.51,165.03 330.34,164.37 333.17,163.73 336.00,163.10" fill="none" stroke="#2a2a2a" stroke-width="0.9"/>
</g>
<rect x="208.6" y="128.7" width="127.40" height="98.20" fill="none" stroke="#111" stroke-width="1.3"/>
<line x1="208.6" y1="216.83" x2="211.4" y2="216.83" stroke="#111" stroke-width="1.1"/>
<line x1="208.6" y1="206.76" x2="212.79999999999998" y2="206.76" stroke="#111" stroke-width="1.1"/>
<line x1="208.6" y1="196.68" x2="211.4" y2="196.68" stroke="#111" stroke-width="1.1"/>
<line x1="208.6" y1="186.61" x2="212.79999999999998" y2="186.61" stroke="#111" stroke-width="1.1"/>
<line x1="208.6" y1="176.54" x2="211.4" y2="176.54" stroke="#111" stroke-width="1.1"/>
<line x1="208.6" y1="166.47" x2="212.79999999999998" y2="166.47" stroke="#111" stroke-width="1.1"/>
<line x1="208.6" y1="156.40" x2="211.4" y2="156.40" stroke="#111" stroke-width="1.1"/>
<line x1="208.6" y1="146.33" x2="212.79999999999998" y2="146.33" stroke="#111" stroke-width="1.1"/>
<line x1="208.6" y1="136.25" x2="211.4" y2="136.25" stroke="#111" stroke-width="1.1"/>
<line x1="222.76" y1="226.9" x2="222.76" y2="224.3" stroke="#111" stroke-width="1.1"/>
<line x1="236.91" y1="226.9" x2="236.91" y2="222.70000000000002" stroke="#111" stroke-width="1.1"/>
<line x1="251.07" y1="226.9" x2="251.07" y2="224.3" stroke="#111" stroke-width="1.1"/>
<line x1="265.22" y1="226.9" x2="265.22" y2="222.70000000000002" stroke="#111" stroke-width="1.1"/>
<line x1="279.38" y1="226.9" x2="279.38" y2="224.3" stroke="#111" stroke-width="1.1"/>
<line x1="293.53" y1="226.9" x2="293.53" y2="222.70000000000002" stroke="#111" stroke-width="1.1"/>
<line x1="307.69" y1="226.9" x2="307.69" y2="224.3" stroke="#111" stroke-width="1.1"/>
<line x1="321.84" y1="226.9" x2="321.84" y2="222.70000000000002" stroke="#111" stroke-width="1.1"/>
<text x="201.80" y="229.90" text-anchor="end" font-size="8.6" font-weight="bold">0</text>
<text x="201.80" y="209.76" text-anchor="end" font-size="8.6" font-weight="bold">40</text>
<text x="201.80" y="189.61" text-anchor="end" font-size="8.6" font-weight="bold">80</text>
<text x="201.80" y="169.47" text-anchor="end" font-size="8.6" font-weight="bold">120</text>
<text x="201.80" y="149.33" text-anchor="end" font-size="8.6" font-weight="bold">160</text>
<text x="208.60" y="240.80" text-anchor="middle" font-size="8.6" font-weight="bold">0</text>
<text x="236.91" y="240.80" text-anchor="middle" font-size="8.6" font-weight="bold">10</text>
<text x="265.22" y="240.80" text-anchor="middle" font-size="8.6" font-weight="bold">20</text>
<text x="293.53" y="240.80" text-anchor="middle" font-size="8.6" font-weight="bold">30</text>
<text x="321.84" y="240.80" text-anchor="middle" font-size="8.6" font-weight="bold">40</text>
<clipPath id="c_K3P1"><rect x="365.1" y="128.2" width="127.39999999999998" height="99.20000000000002"/></clipPath>
<g clip-path="url(#c_K3P1)">
<line x1="365.1" y1="227.4" x2="459.66" y2="128.2" stroke="#222" stroke-width="0.8"/>
<polyline points="365.10,227.40 367.93,224.43 370.76,221.46 373.59,218.69 376.42,216.08 379.26,213.60 382.09,211.24 384.92,208.99 387.75,206.85 390.58,204.80 393.41,202.84 396.24,200.96 399.07,199.16 401.90,197.44 404.74,195.79 407.57,194.20 410.40,192.67 413.23,191.21 416.06,189.79 418.89,188.43 421.72,187.12 424.55,185.85 427.38,184.63 430.22,183.45 433.05,182.31 435.88,181.21 438.71,180.14 441.54,179.11 444.37,178.11 447.20,177.14 450.03,176.20 452.86,175.29 455.70,174.40 458.53,173.54 461.36,172.71 464.19,171.90 467.02,171.11 469.85,170.34 472.68,169.60 475.51,168.87 478.34,168.17 481.18,167.48 484.01,166.81 486.84,166.16 489.67,165.52 492.50,164.90" fill="none" stroke="#2a2a2a" stroke-width="0.9"/>
<polyline points="365.10,227.40 367.93,224.43 370.76,221.46 373.59,218.49 376.42,215.75 379.26,213.25 382.09,210.88 384.92,208.65 387.75,206.53 390.58,204.52 393.41,202.61 396.24,200.79 399.07,199.05 401.90,197.40 404.74,195.82 407.57,194.32 410.40,192.87 413.23,191.49 416.06,190.17 418.89,188.89 421.72,187.67 424.55,186.50 427.38,185.37 430.22,184.29 433.05,183.24 435.88,182.23 438.71,181.26 441.54,180.32 444.37,179.42 447.20,178.54 450.03,177.70 452.86,176.88 455.70,176.09 458.53,175.32 461.36,174.57 464.19,173.85 467.02,173.15 469.85,172.48 472.68,171.82 475.51,171.18 478.34,170.56 481.18,169.95 484.01,169.37 486.84,168.80 489.67,168.24 492.50,167.70" fill="none" stroke="#2a2a2a" stroke-width="0.9"/>
<polyline points="365.10,227.40 367.93,224.43 370.76,221.46 373.59,218.49 376.42,215.58 379.26,213.10 382.09,210.77 384.92,208.58 387.75,206.52 390.58,204.58 393.41,202.74 396.24,201.00 399.07,199.35 401.90,197.79 404.74,196.30 407.57,194.89 410.40,193.54 413.23,192.26 416.06,191.03 418.89,189.85 421.72,188.73 424.55,187.66 427.38,186.63 430.22,185.64 433.05,184.69 435.88,183.78 438.71,182.90 441.54,182.05 444.37,181.24 447.20,180.46 450.03,179.70 452.86,178.97 455.70,178.26 458.53,177.58 461.36,176.92 464.19,176.29 467.02,175.67 469.85,175.07 472.68,174.50 475.51,173.93 478.34,173.39 481.18,172.86 484.01,172.35 486.84,171.85 489.67,171.37 492.50,170.90" fill="none" stroke="#2a2a2a" stroke-width="0.9"/>
<polyline points="365.10,227.40 367.93,224.43 370.76,221.46 373.59,218.49 376.42,215.57 379.26,213.16 382.09,210.91 384.92,208.83 387.75,206.88 390.58,205.06 393.41,203.35 396.24,201.74 399.07,200.23 401.90,198.80 404.74,197.45 407.57,196.18 410.40,194.97 413.23,193.83 416.06,192.74 418.89,191.70 421.72,190.71 424.55,189.77 427.38,188.87 430.22,188.02 433.05,187.19 435.88,186.41 438.71,185.65 441.54,184.93 444.37,184.24 447.20,183.57 450.03,182.93 452.86,182.31 455.70,181.72 458.53,181.14 461.36,180.59 464.19,180.06 467.02,179.54 469.85,179.05 472.68,178.56 475.51,178.10 478.34,177.65 481.18,177.21 484.01,176.79 486.84,176.38 489.67,175.99 492.50,175.60" fill="none" stroke="#2a2a2a" stroke-width="0.9"/>
<polyline points="365.10,227.40 367.93,224.58 370.76,222.01 373.59,219.65 376.42,217.49 379.26,215.49 382.09,213.65 384.92,211.94 387.75,210.34 390.58,208.86 393.41,207.47 396.24,206.17 399.07,204.95 401.90,203.80 404.74,202.71 407.57,201.69 410.40,200.73 413.23,199.81 416.06,198.94 418.89,198.12 421.72,197.33 424.55,196.59 427.38,195.88 430.22,195.20 433.05,194.55 435.88,193.93 438.71,193.34 441.54,192.77 444.37,192.23 447.20,191.70 450.03,191.20 452.86,190.72 455.70,190.25 458.53,189.80 461.36,189.37 464.19,188.96 467.02,188.56 469.85,188.17 472.68,187.80 475.51,187.44 478.34,187.09 481.18,186.75 484.01,186.42 486.84,186.10 489.67,185.80 492.50,185.50" fill="none" stroke="#2a2a2a" stroke-width="0.9"/>
<polyline points="365.10,227.40 367.93,224.79 370.76,222.45 373.59,220.33 376.42,218.41 379.26,216.66 382.09,215.05 384.92,213.58 387.75,212.22 390.58,210.96 393.41,209.80 396.24,208.71 399.07,207.70 401.90,206.75 404.74,205.86 407.57,205.03 410.40,204.25 413.23,203.51 416.06,202.81 418.89,202.15 421.72,201.53 424.55,200.94 427.38,200.38 430.22,199.84 433.05,199.33 435.88,198.85 438.71,198.39 441.54,197.94 444.37,197.52 447.20,197.12 450.03,196.73 452.86,196.36 455.70,196.00 458.53,195.66 461.36,195.33 464.19,195.01 467.02,194.71 469.85,194.41 472.68,194.13 475.51,193.86 478.34,193.59 481.18,193.34 484.01,193.09 486.84,192.85 489.67,192.62 492.50,192.40" fill="none" stroke="#2a2a2a" stroke-width="0.9"/>
<polyline points="365.10,227.40 367.93,225.53 370.76,223.82 373.59,222.24 376.42,220.78 379.26,219.44 382.09,218.18 384.92,217.01 387.75,215.92 390.58,214.90 393.41,213.95 396.24,213.05 399.07,212.20 401.90,211.40 404.74,210.65 407.57,209.93 410.40,209.26 413.23,208.61 416.06,208.00 418.89,207.42 421.72,206.87 424.55,206.34 427.38,205.84 430.22,205.36 433.05,204.90 435.88,204.46 438.71,204.04 441.54,203.63 444.37,203.24 447.20,202.87 450.03,202.51 452.86,202.16 455.70,201.83 458.53,201.51 461.36,201.20 464.19,200.90 467.02,200.61 469.85,200.33 472.68,200.06 475.51,199.80 478.34,199.55 481.18,199.30 484.01,199.07 486.84,198.84 489.67,198.62 492.50,198.40" fill="none" stroke="#2a2a2a" stroke-width="0.9"/>
</g>
<rect x="365.1" y="128.2" width="127.40" height="99.20" fill="none" stroke="#111" stroke-width="1.3"/>
<line x1="365.1" y1="217.23" x2="367.90000000000003" y2="217.23" stroke="#111" stroke-width="1.1"/>
<line x1="365.1" y1="207.05" x2="369.3" y2="207.05" stroke="#111" stroke-width="1.1"/>
<line x1="365.1" y1="196.88" x2="367.90000000000003" y2="196.88" stroke="#111" stroke-width="1.1"/>
<line x1="365.1" y1="186.70" x2="369.3" y2="186.70" stroke="#111" stroke-width="1.1"/>
<line x1="365.1" y1="176.53" x2="367.90000000000003" y2="176.53" stroke="#111" stroke-width="1.1"/>
<line x1="365.1" y1="166.35" x2="369.3" y2="166.35" stroke="#111" stroke-width="1.1"/>
<line x1="365.1" y1="156.18" x2="367.90000000000003" y2="156.18" stroke="#111" stroke-width="1.1"/>
<line x1="365.1" y1="146.01" x2="369.3" y2="146.01" stroke="#111" stroke-width="1.1"/>
<line x1="365.1" y1="135.83" x2="367.90000000000003" y2="135.83" stroke="#111" stroke-width="1.1"/>
<line x1="379.26" y1="227.4" x2="379.26" y2="224.8" stroke="#111" stroke-width="1.1"/>
<line x1="393.41" y1="227.4" x2="393.41" y2="223.20000000000002" stroke="#111" stroke-width="1.1"/>
<line x1="407.57" y1="227.4" x2="407.57" y2="224.8" stroke="#111" stroke-width="1.1"/>
<line x1="421.72" y1="227.4" x2="421.72" y2="223.20000000000002" stroke="#111" stroke-width="1.1"/>
<line x1="435.88" y1="227.4" x2="435.88" y2="224.8" stroke="#111" stroke-width="1.1"/>
<line x1="450.03" y1="227.4" x2="450.03" y2="223.20000000000002" stroke="#111" stroke-width="1.1"/>
<line x1="464.19" y1="227.4" x2="464.19" y2="224.8" stroke="#111" stroke-width="1.1"/>
<line x1="478.34" y1="227.4" x2="478.34" y2="223.20000000000002" stroke="#111" stroke-width="1.1"/>
<text x="358.30" y="230.40" text-anchor="end" font-size="8.6" font-weight="bold">0</text>
<text x="358.30" y="210.05" text-anchor="end" font-size="8.6" font-weight="bold">40</text>
<text x="358.30" y="189.70" text-anchor="end" font-size="8.6" font-weight="bold">80</text>
<text x="358.30" y="169.35" text-anchor="end" font-size="8.6" font-weight="bold">120</text>
<text x="358.30" y="149.01" text-anchor="end" font-size="8.6" font-weight="bold">160</text>
<text x="365.10" y="241.30" text-anchor="middle" font-size="8.6" font-weight="bold">0</text>
<text x="393.41" y="241.30" text-anchor="middle" font-size="8.6" font-weight="bold">10</text>
<text x="421.72" y="241.30" text-anchor="middle" font-size="8.6" font-weight="bold">20</text>
<text x="450.03" y="241.30" text-anchor="middle" font-size="8.6" font-weight="bold">30</text>
<text x="478.34" y="241.30" text-anchor="middle" font-size="8.6" font-weight="bold">40</text>
</g>
<text x="63.0" y="23.3" font-size="13.3" font-weight="bold" textLength="21.2" lengthAdjust="spacingAndGlyphs" style="stroke:none">WT</text>
<text x="214.3" y="23.4" font-size="13" font-weight="bold" textLength="15.0" lengthAdjust="spacingAndGlyphs" style="stroke:none">C1</text>
<text x="373.0" y="23.4" font-size="13" font-weight="bold" textLength="16.4" lengthAdjust="spacingAndGlyphs" style="stroke:none">C2</text>
<text x="66.6" y="149.7" font-size="13" font-weight="bold" textLength="16.4" lengthAdjust="spacingAndGlyphs" style="stroke:none">C3</text>
<text x="220.4" y="150.4" font-size="13" font-weight="bold" textLength="18.4" lengthAdjust="spacingAndGlyphs" style="stroke:none">K3</text>
<text x="375.2" y="150.0" font-size="12.6" font-weight="bold" textLength="30.6" lengthAdjust="spacingAndGlyphs" style="stroke:none">K3P1</text>
<text x="214.5" y="150.4" font-size="12.6" fill="#888" style="stroke:none" textLength="5.9" lengthAdjust="spacingAndGlyphs">&#916;</text>
<text x="0.5" y="11.0" font-size="14.6" font-weight="bold" style="stroke-width:0.55px">A</text>
<text transform="translate(26.6,146.2) rotate(-90)" font-size="14" font-weight="bold" textLength="74" lengthAdjust="spacingAndGlyphs" style="stroke-width:0.15px">A405 (mOD)</text>
<text x="232.3" y="258.6" font-size="12.5" font-weight="bold" textLength="64.6" lengthAdjust="spacingAndGlyphs">Time (min)</text>
<line x1="501" y1="17.3" x2="501" y2="175" stroke="#000" stroke-width="2.6"/>
<polygon points="496,174 505.8,174 500.9,183.5" fill="#000"/>
<text transform="translate(508.9,36.6) rotate(90)" font-size="10.8" font-weight="bold" textLength="125" lengthAdjust="spacingAndGlyphs">Increasing Protein S</text>
<text x="2.0" y="286.9" font-size="14.4" font-weight="bold" style="stroke-width:0.55px">B</text>
<text transform="translate(27.3,404.3) rotate(-90)" font-size="13.6" font-weight="bold" textLength="108" lengthAdjust="spacingAndGlyphs">A405 (mOD)/min</text>
<rect x="58.4" y="282.0" width="177.70" height="136.60" fill="none" stroke="#111" stroke-width="1.3"/>
<line x1="58.4" y1="398.50" x2="62.4" y2="398.50" stroke="#111" stroke-width="1.1"/>
<line x1="58.4" y1="378.40" x2="64.4" y2="378.40" stroke="#111" stroke-width="1.1"/>
<line x1="58.4" y1="358.30" x2="62.4" y2="358.30" stroke="#111" stroke-width="1.1"/>
<line x1="58.4" y1="338.20" x2="64.4" y2="338.20" stroke="#111" stroke-width="1.1"/>
<line x1="58.4" y1="318.10" x2="62.4" y2="318.10" stroke="#111" stroke-width="1.1"/>
<line x1="58.4" y1="298.00" x2="64.4" y2="298.00" stroke="#111" stroke-width="1.1"/>
<line x1="83.30" y1="418.6" x2="83.30" y2="414.6" stroke="#111" stroke-width="1.1"/>
<line x1="108.80" y1="418.6" x2="108.80" y2="414.6" stroke="#111" stroke-width="1.1"/>
<line x1="134.30" y1="418.6" x2="134.30" y2="414.6" stroke="#111" stroke-width="1.1"/>
<line x1="159.80" y1="418.6" x2="159.80" y2="414.6" stroke="#111" stroke-width="1.1"/>
<line x1="185.30" y1="418.6" x2="185.30" y2="414.6" stroke="#111" stroke-width="1.1"/>
<line x1="210.80" y1="418.6" x2="210.80" y2="414.6" stroke="#111" stroke-width="1.1"/>
<text x="50.10" y="423.20" text-anchor="end" font-size="12.6" font-weight="bold">0</text>
<text x="50.10" y="383.00" text-anchor="end" font-size="12.6" font-weight="bold">1</text>
<text x="50.10" y="342.80" text-anchor="end" font-size="12.6" font-weight="bold">2</text>
<text x="50.10" y="302.60" text-anchor="end" font-size="12.6" font-weight="bold">3</text>
<text x="57.80" y="439.3" text-anchor="middle" font-size="12.6" font-weight="bold">0</text>
<text x="108.80" y="439.3" text-anchor="middle" font-size="12.6" font-weight="bold">100</text>
<text x="159.80" y="439.3" text-anchor="middle" font-size="12.6" font-weight="bold">200</text>
<text x="210.80" y="439.3" text-anchor="middle" font-size="12.6" font-weight="bold">300</text>
<polyline points="58.00,358.20 58.26,359.81 58.51,361.39 58.77,362.93 59.02,364.45 59.27,365.93 59.53,367.39 59.78,368.82 60.04,370.22 60.30,371.59 60.55,372.94 60.80,374.26 61.06,375.54 61.31,376.80 61.57,378.02 61.83,379.21 62.08,380.35 62.34,381.46 62.59,382.52 62.84,383.54 63.10,384.50 63.36,385.41 63.61,386.26 63.87,387.06 64.12,387.80 64.38,388.48 64.63,389.11 64.89,389.69 65.14,390.22 65.39,390.70 65.65,391.15 65.91,391.56 66.16,391.95 66.42,392.30 66.67,392.63 66.92,392.93 67.18,393.22 67.44,393.49 67.69,393.74 67.94,393.98 68.20,394.21 68.45,394.42 68.71,394.62 68.97,394.82 69.22,395.00 69.47,395.18 69.73,395.35 69.98,395.51 70.24,395.67 70.50,395.82 70.75,395.97 71.00,396.11 71.26,396.24 71.52,396.38 71.77,396.50 72.03,396.63 72.28,396.74 72.53,396.86 72.79,396.97 73.05,397.08 73.30,397.19 73.56,397.29 73.81,397.39 74.06,397.49 74.32,397.58 74.58,397.68 74.83,397.77 75.09,397.86 75.34,397.94 75.59,398.03 75.85,398.11 76.11,398.19 76.36,398.27 76.62,398.35 76.87,398.42 77.12,398.50 77.38,398.57 77.64,398.64 77.89,398.71 78.14,398.78 78.40,398.84 78.66,398.91 78.91,398.97 79.16,399.03 79.42,399.10 79.67,399.16 79.93,399.22 80.19,399.27 80.44,399.33 80.69,399.39 80.95,399.44 81.20,399.50 81.46,399.55 81.72,399.60 81.97,399.65 82.22,399.70 82.48,399.75 82.73,399.80 82.99,399.85 83.25,399.90 83.50,399.95 83.75,399.99 84.01,400.04 84.27,400.08 84.52,400.12 84.78,400.17 85.03,400.21 85.28,400.25 85.54,400.29 85.80,400.33 86.05,400.37 86.31,400.41 86.56,400.45 86.81,400.49 87.07,400.53 87.33,400.57 87.58,400.60 87.84,400.64 88.09,400.67 88.34,400.71 88.60,400.74 89.11,400.81 90.77,401.02 92.42,401.21 94.08,401.39 95.73,401.55 97.39,401.71 99.05,401.85 100.70,401.98 102.36,402.11 104.01,402.22 105.67,402.33 107.33,402.44 108.98,402.53 110.64,402.63 112.29,402.71 113.95,402.80 115.61,402.87 117.26,402.95 118.92,403.02 120.58,403.09 122.23,403.15 123.89,403.22 125.54,403.27 127.20,403.33 128.86,403.39 130.51,403.44 132.17,403.49 133.82,403.53 135.48,403.58 137.14,403.63 138.79,403.67 140.45,403.71 142.10,403.75 143.76,403.79 145.42,403.82 147.07,403.86 148.73,403.89 150.38,403.93 152.04,403.96 153.70,403.99 155.35,404.02 157.01,404.05 158.66,404.08 160.32,404.11 161.98,404.13 163.63,404.16 165.29,404.18 166.95,404.21 168.60,404.23 170.26,404.26 171.91,404.28 173.57,404.30 175.23,404.32 176.88,404.34 178.54,404.36 180.19,404.38 181.85,404.40 183.51,404.42 185.16,404.44 186.82,404.46 188.47,404.47 190.13,404.49 191.79,404.51 193.44,404.52 195.10,404.54 196.75,404.56 198.41,404.57 200.07,404.59 201.72,404.60 203.38,404.62 205.03,404.63 206.69,404.64 208.35,404.66 210.00,404.67 211.66,404.68 213.32,404.69 214.97,404.71 216.63,404.72 218.28,404.73 219.94,404.74 221.60,404.75 223.25,404.76 224.91,404.78 226.56,404.79 228.22,404.80 229.88,404.81 231.53,404.82 233.19,404.83 234.84,404.84 236.50,404.85" fill="none" stroke="#111" stroke-width="1.1"/>
<polyline points="58.00,298.51 58.26,300.78 58.51,302.95 58.77,305.04 59.02,307.05 59.27,308.98 59.53,310.85 59.78,312.64 60.04,314.38 60.30,316.05 60.55,317.67 60.80,319.24 61.06,320.77 61.31,322.24 61.57,323.68 61.83,325.07 62.08,326.43 62.34,327.75 62.59,329.03 62.84,330.28 63.10,331.51 63.36,332.70 63.61,333.86 63.87,335.00 64.12,336.11 64.38,337.20 64.63,338.27 64.89,339.31 65.14,340.33 65.39,341.34 65.65,342.32 65.91,343.29 66.16,344.23 66.42,345.16 66.67,346.08 66.92,346.98 67.18,347.86 67.44,348.73 67.69,349.59 67.94,350.43 68.20,351.26 68.45,352.08 68.71,352.89 68.97,353.68 69.22,354.46 69.47,355.24 69.73,356.00 69.98,356.75 70.24,357.50 70.50,358.23 70.75,358.96 71.00,359.68 71.26,360.38 71.52,361.08 71.77,361.78 72.03,362.46 72.28,363.14 72.53,363.81 72.79,364.48 73.05,365.13 73.30,365.78 73.56,366.43 73.81,367.07 74.06,367.70 74.32,368.32 74.58,368.94 74.83,369.56 75.09,370.16 75.34,370.77 75.59,371.36 75.85,371.95 76.11,372.53 76.36,373.11 76.62,373.67 76.87,374.22 77.12,374.74 77.38,375.23 77.64,375.67 77.89,376.03 78.14,376.33 78.40,376.60 78.66,376.84 78.91,377.07 79.16,377.29 79.42,377.50 79.67,377.71 79.93,377.91 80.19,378.11 80.44,378.30 80.69,378.49 80.95,378.68 81.20,378.86 81.46,379.04 81.72,379.21 81.97,379.39 82.22,379.56 82.48,379.73 82.73,379.89 82.99,380.06 83.25,380.22 83.50,380.38 83.75,380.53 84.01,380.68 84.27,380.84 84.52,380.99 84.78,381.13 85.03,381.28 85.28,381.42 85.54,381.56 85.80,381.70 86.05,381.84 86.31,381.97 86.56,382.11 86.81,382.24 87.07,382.37 87.33,382.50 87.58,382.62 87.84,382.75 88.09,382.87 88.34,382.99 88.60,383.12 89.11,383.35 90.77,384.08 92.42,384.75 94.08,385.38 95.73,385.96 97.39,386.50 99.05,387.01 100.70,387.48 102.36,387.93 104.01,388.35 105.67,388.74 107.33,389.12 108.98,389.47 110.64,389.81 112.29,390.12 113.95,390.42 115.61,390.71 117.26,390.98 118.92,391.24 120.58,391.49 122.23,391.73 123.89,391.95 125.54,392.17 127.20,392.38 128.86,392.58 130.51,392.77 132.17,392.95 133.82,393.13 135.48,393.30 137.14,393.46 138.79,393.62 140.45,393.77 142.10,393.92 143.76,394.06 145.42,394.20 147.07,394.33 148.73,394.46 150.38,394.58 152.04,394.70 153.70,394.82 155.35,394.93 157.01,395.04 158.66,395.15 160.32,395.25 161.98,395.35 163.63,395.44 165.29,395.54 166.95,395.63 168.60,395.72 170.26,395.81 171.91,395.89 173.57,395.97 175.23,396.05 176.88,396.13 178.54,396.21 180.19,396.28 181.85,396.35 183.51,396.42 185.16,396.49 186.82,396.56 188.47,396.62 190.13,396.69 191.79,396.75 193.44,396.81 195.10,396.87 196.75,396.93 198.41,396.99 200.07,397.04 201.72,397.10 203.38,397.15 205.03,397.20 206.69,397.25 208.35,397.30 210.00,397.35 211.66,397.40 213.32,397.45 214.97,397.49 216.63,397.54 218.28,397.58 219.94,397.63 221.60,397.67 223.25,397.71 224.91,397.75 226.56,397.79 228.22,397.83 229.88,397.87 231.53,397.91 233.19,397.95 234.84,397.98 236.50,398.02" fill="none" stroke="#111" stroke-width="1.1"/>
<polyline points="58.00,314.50 58.26,321.70 58.51,325.96 58.77,329.03 59.02,331.51 59.27,333.64 59.53,335.53 59.78,337.27 60.04,338.90 60.30,340.43 60.55,341.89 60.80,343.29 61.06,344.64 61.31,345.95 61.57,347.21 61.83,348.43 62.08,349.62 62.34,350.78 62.59,351.90 62.84,353.00 63.10,354.07 63.36,355.11 63.61,356.13 63.87,357.12 64.12,358.09 64.38,359.03 64.63,359.95 64.89,360.84 65.14,361.71 65.39,362.57 65.65,363.40 65.91,364.20 66.16,364.99 66.42,365.76 66.67,366.51 66.92,367.24 67.18,367.95 67.44,368.64 67.69,369.32 67.94,369.98 68.20,370.62 68.45,371.24 68.71,371.85 68.97,372.44 69.22,373.02 69.47,373.58 69.73,374.13 69.98,374.66 70.24,375.18 70.50,375.69 70.75,376.18 71.00,376.66 71.26,377.13 71.52,377.58 71.77,378.03 72.03,378.46 72.28,378.88 72.53,379.29 72.79,379.69 73.05,380.09 73.30,380.47 73.56,380.84 73.81,381.20 74.06,381.55 74.32,381.90 74.58,382.24 74.83,382.56 75.09,382.88 75.34,383.20 75.59,383.50 75.85,383.80 76.11,384.09 76.36,384.38 76.62,384.65 76.87,384.92 77.12,385.19 77.38,385.45 77.64,385.70 77.89,385.95 78.14,386.19 78.40,386.43 78.66,386.66 78.91,386.89 79.16,387.11 79.42,387.32 79.67,387.54 79.93,387.74 80.19,387.95 80.44,388.15 80.69,388.34 80.95,388.53 81.20,388.72 81.46,388.90 81.72,389.08 81.97,389.26 82.22,389.43 82.48,389.60 82.73,389.76 82.99,389.93 83.25,390.09 83.50,390.24 83.75,390.40 84.01,390.55 84.27,390.69 84.52,390.84 84.78,390.98 85.03,391.12 85.28,391.26 85.54,391.39 85.80,391.52 86.05,391.65 86.31,391.78 86.56,391.91 86.81,392.03 87.07,392.15 87.33,392.27 87.58,392.38 87.84,392.50 88.09,392.61 88.34,392.72 88.60,392.83 89.11,393.05 90.77,393.69 92.42,394.27 94.08,394.80 95.73,395.28 97.39,395.73 99.05,396.13 100.70,396.50 102.36,396.84 104.01,397.16 105.67,397.46 107.33,397.73 108.98,397.99 110.64,398.23 112.29,398.45 113.95,398.66 115.61,398.86 117.26,399.04 118.92,399.22 120.58,399.39 122.23,399.54 123.89,399.69 125.54,399.83 127.20,399.97 128.86,400.10 130.51,400.22 132.17,400.34 133.82,400.45 135.48,400.55 137.14,400.65 138.79,400.75 140.45,400.84 142.10,400.93 143.76,401.02 145.42,401.10 147.07,401.18 148.73,401.26 150.38,401.33 152.04,401.40 153.70,401.47 155.35,401.54 157.01,401.60 158.66,401.66 160.32,401.72 161.98,401.78 163.63,401.83 165.29,401.89 166.95,401.94 168.60,401.99 170.26,402.04 171.91,402.09 173.57,402.13 175.23,402.18 176.88,402.22 178.54,402.26 180.19,402.30 181.85,402.34 183.51,402.38 185.16,402.42 186.82,402.46 188.47,402.49 190.13,402.53 191.79,402.56 193.44,402.60 195.10,402.63 196.75,402.66 198.41,402.69 200.07,402.72 201.72,402.75 203.38,402.78 205.03,402.81 206.69,402.83 208.35,402.86 210.00,402.89 211.66,402.91 213.32,402.94 214.97,402.96 216.63,402.99 218.28,403.01 219.94,403.03 221.60,403.05 223.25,403.08 224.91,403.10 226.56,403.12 228.22,403.14 229.88,403.16 231.53,403.18 233.19,403.20 234.84,403.22 236.50,403.24" fill="none" stroke="#111" stroke-width="1.1"/>
<circle cx="58.00" cy="358.2" r="3.5" fill="#fff" stroke="#111" stroke-width="0.9"/>
<circle cx="63.10" cy="384.5" r="3.5" fill="#fff" stroke="#111" stroke-width="0.9"/>
<circle cx="68.20" cy="394.2" r="3.5" fill="#fff" stroke="#111" stroke-width="0.9"/>
<circle cx="78.40" cy="398.9" r="3.5" fill="#fff" stroke="#111" stroke-width="0.9"/>
<circle cx="98.80" cy="401.6" r="3.5" fill="#fff" stroke="#111" stroke-width="0.9"/>
<circle cx="139.60" cy="404.3" r="3.5" fill="#fff" stroke="#111" stroke-width="0.9"/>
<circle cx="221.20" cy="404.5" r="3.5" fill="#fff" stroke="#111" stroke-width="0.9"/>
<circle cx="58.00" cy="298.3" r="3.5" fill="#000"/>
<circle cx="63.10" cy="332.5" r="3.5" fill="#000"/>
<circle cx="68.20" cy="349.6" r="3.5" fill="#000"/>
<circle cx="78.40" cy="377.3" r="3.5" fill="#000"/>
<circle cx="98.80" cy="385.5" r="3.5" fill="#000"/>
<circle cx="139.60" cy="394.3" r="3.5" fill="#000"/>
<circle cx="221.20" cy="398.0" r="3.5" fill="#000"/>
<rect x="54.70" y="311.2" width="6.6" height="6.6" fill="#fff" stroke="#222" stroke-width="0.9"/>
<rect x="59.80" y="350.9" width="6.6" height="6.6" fill="#fff" stroke="#222" stroke-width="0.9"/>
<rect x="64.90" y="366.3" width="6.6" height="6.6" fill="#fff" stroke="#222" stroke-width="0.9"/>
<rect x="75.10" y="383.2" width="6.6" height="6.6" fill="#fff" stroke="#222" stroke-width="0.9"/>
<rect x="95.50" y="392.7" width="6.6" height="6.6" fill="#fff" stroke="#222" stroke-width="0.9"/>
<rect x="136.30" y="397.9" width="6.6" height="6.6" fill="#fff" stroke="#222" stroke-width="0.9"/>
<rect x="217.90" y="399.7" width="6.6" height="6.6" fill="#fff" stroke="#222" stroke-width="0.9"/>
<circle cx="196.1" cy="304" r="3.4" fill="#fff" stroke="#111" stroke-width="0.9"/>
<circle cx="196.1" cy="323.3" r="3.6" fill="#000"/>
<rect x="192.6" y="339.6" width="7.2" height="7.2" fill="#fff" stroke="#333" stroke-width="0.9"/>
<text x="203.6" y="307.6" font-size="10" font-weight="bold">WT</text>
<text x="204" y="327.4" font-size="10" font-weight="bold">C1</text>
<text x="203.4" y="346.8" font-size="10" font-weight="bold">C2</text>
<text x="99.2" y="461.8" font-size="13.5" font-weight="bold" textLength="96" lengthAdjust="spacingAndGlyphs">Protein S (nM)</text>
<rect x="257.1" y="281.4" width="178.10" height="137.00" fill="none" stroke="#111" stroke-width="1.3"/>
<line x1="257.1" y1="398.85" x2="261.1" y2="398.85" stroke="#111" stroke-width="1.1"/>
<line x1="257.1" y1="379.20" x2="263.1" y2="379.20" stroke="#111" stroke-width="1.1"/>
<line x1="257.1" y1="359.55" x2="261.1" y2="359.55" stroke="#111" stroke-width="1.1"/>
<line x1="257.1" y1="339.90" x2="263.1" y2="339.90" stroke="#111" stroke-width="1.1"/>
<line x1="257.1" y1="320.25" x2="261.1" y2="320.25" stroke="#111" stroke-width="1.1"/>
<line x1="257.1" y1="300.60" x2="263.1" y2="300.60" stroke="#111" stroke-width="1.1"/>
<line x1="282.50" y1="418.4" x2="282.50" y2="414.4" stroke="#111" stroke-width="1.1"/>
<line x1="308.00" y1="418.4" x2="308.00" y2="414.4" stroke="#111" stroke-width="1.1"/>
<line x1="333.50" y1="418.4" x2="333.50" y2="414.4" stroke="#111" stroke-width="1.1"/>
<line x1="359.00" y1="418.4" x2="359.00" y2="414.4" stroke="#111" stroke-width="1.1"/>
<line x1="384.50" y1="418.4" x2="384.50" y2="414.4" stroke="#111" stroke-width="1.1"/>
<line x1="410.00" y1="418.4" x2="410.00" y2="414.4" stroke="#111" stroke-width="1.1"/>
<text x="248.80" y="423.10" text-anchor="end" font-size="12.6" font-weight="bold">0</text>
<text x="248.80" y="383.80" text-anchor="end" font-size="12.6" font-weight="bold">1</text>
<text x="248.80" y="344.50" text-anchor="end" font-size="12.6" font-weight="bold">2</text>
<text x="248.80" y="305.20" text-anchor="end" font-size="12.6" font-weight="bold">3</text>
<text x="257.00" y="439.3" text-anchor="middle" font-size="12.6" font-weight="bold">0</text>
<text x="308.00" y="439.3" text-anchor="middle" font-size="12.6" font-weight="bold">100</text>
<text x="359.00" y="439.3" text-anchor="middle" font-size="12.6" font-weight="bold">200</text>
<text x="410.00" y="439.3" text-anchor="middle" font-size="12.6" font-weight="bold">300</text>
<line x1="257.1" y1="320.2" x2="435.2" y2="309.5" stroke="#111" stroke-width="1.1"/>
<line x1="257.1" y1="355.6" x2="435.2" y2="346.5" stroke="#111" stroke-width="1.1"/>
<polyline points="257.00,355.19 258.50,357.64 260.00,359.85 261.50,361.85 263.00,363.66 264.50,365.32 266.00,366.84 267.50,368.24 269.00,369.53 270.50,370.72 272.00,371.83 273.50,372.87 275.00,373.83 276.50,374.73 278.00,375.58 279.50,376.37 281.00,377.12 282.50,377.83 284.00,378.49 285.50,379.12 287.00,379.72 288.50,380.28 290.00,380.82 291.50,381.33 293.00,381.82 294.50,382.28 296.00,382.73 297.50,383.15 299.00,383.55 300.50,383.94 302.00,384.31 303.50,384.67 305.00,385.01 306.50,385.34 308.00,385.66 309.50,385.96 311.00,386.25 312.50,386.54 314.00,386.81 315.50,387.07 317.00,387.33 318.50,387.57 320.00,387.81 321.50,388.04 323.00,388.26 324.50,388.47 326.00,388.68 327.50,388.88 329.00,389.08 330.50,389.27 332.00,389.45 333.50,389.63 335.00,389.80 336.50,389.97 338.00,390.14 339.50,390.30 341.00,390.45 342.50,390.60 344.00,390.75 345.50,390.89 347.00,391.03 348.50,391.17 350.00,391.30 351.50,391.43 353.00,391.56 354.50,391.68 356.00,391.80 357.50,391.92 359.00,392.03 360.50,392.14 362.00,392.25 363.50,392.36 365.00,392.46 366.50,392.57 368.00,392.67 369.50,392.77 371.00,392.86 372.50,392.96 374.00,393.05 375.50,393.14 377.00,393.23 378.50,393.31 380.00,393.40 381.50,393.48 383.00,393.56 384.50,393.64 386.00,393.72 387.50,393.80 389.00,393.87 390.50,393.94 392.00,394.02 393.50,394.09 395.00,394.16 396.50,394.23 398.00,394.29 399.50,394.36 401.00,394.43 402.50,394.49 404.00,394.55 405.50,394.61 407.00,394.68 408.50,394.73 410.00,394.79 411.50,394.85 413.00,394.91 414.50,394.96 416.00,395.02 417.50,395.07 419.00,395.13 420.50,395.18 422.00,395.23 423.50,395.28 425.00,395.33 426.50,395.38 428.00,395.43 429.50,395.48 431.00,395.52 432.50,395.57 434.00,395.62 435.50,395.66" fill="none" stroke="#111" stroke-width="1.1"/>
<rect x="253.30" y="309.9" width="7.4" height="7.0" fill="#000"/>
<rect x="258.40" y="313.8" width="7.4" height="7.0" fill="#000"/>
<rect x="263.50" y="318.7" width="7.4" height="7.0" fill="#000"/>
<rect x="273.70" y="318.4" width="7.4" height="7.0" fill="#000"/>
<rect x="294.10" y="315.1" width="7.4" height="7.0" fill="#000"/>
<rect x="334.90" y="313.9" width="7.4" height="7.0" fill="#000"/>
<rect x="416.50" y="303.9" width="7.4" height="7.0" fill="#000"/>
<polygon points="253.00,360.30 261.00,360.30 257.00,353.70" fill="#fff" stroke="#222" stroke-width="0.8"/>
<polygon points="258.10,364.00 266.10,364.00 262.10,357.40" fill="#fff" stroke="#222" stroke-width="0.8"/>
<polygon points="263.20,359.30 271.20,359.30 267.20,352.70" fill="#fff" stroke="#222" stroke-width="0.8"/>
<polygon points="273.40,356.30 281.40,356.30 277.40,349.70" fill="#fff" stroke="#222" stroke-width="0.8"/>
<polygon points="293.80,356.50 301.80,356.50 297.80,349.90" fill="#fff" stroke="#222" stroke-width="0.8"/>
<polygon points="334.60,350.20 342.60,350.20 338.60,343.60" fill="#fff" stroke="#222" stroke-width="0.8"/>
<polygon points="416.20,352.00 424.20,352.00 420.20,345.40" fill="#fff" stroke="#222" stroke-width="0.8"/>
<polygon points="253.00,358.10 261.00,358.10 257.00,351.50" fill="#000"/>
<polygon points="258.10,366.90 266.10,366.90 262.10,360.30" fill="#000"/>
<polygon points="263.20,370.70 271.20,370.70 267.20,364.10" fill="#000"/>
<polygon points="273.40,378.70 281.40,378.70 277.40,372.10" fill="#000"/>
<polygon points="293.80,385.80 301.80,385.80 297.80,379.20" fill="#000"/>
<polygon points="334.60,394.30 342.60,394.30 338.60,387.70" fill="#000"/>
<polygon points="416.20,398.20 424.20,398.20 420.20,391.60" fill="#000"/>
<text x="364.5" y="308.4" font-size="9.0" textLength="12.8" lengthAdjust="spacingAndGlyphs" style="stroke-width:0.35px">C3</text>
<text x="364.5" y="344.1" font-size="9.0" textLength="20.2" lengthAdjust="spacingAndGlyphs" style="stroke-width:0.35px">&#916;K3</text>
<text x="364.5" y="390.1" font-size="10.3" textLength="25.0" lengthAdjust="spacingAndGlyphs" style="stroke-width:0.35px">K3P1</text>
<text x="299.8" y="461.8" font-size="13.5" font-weight="bold" textLength="95" lengthAdjust="spacingAndGlyphs">Protein S (nM)</text>
</g>
</svg>
</body></html>
